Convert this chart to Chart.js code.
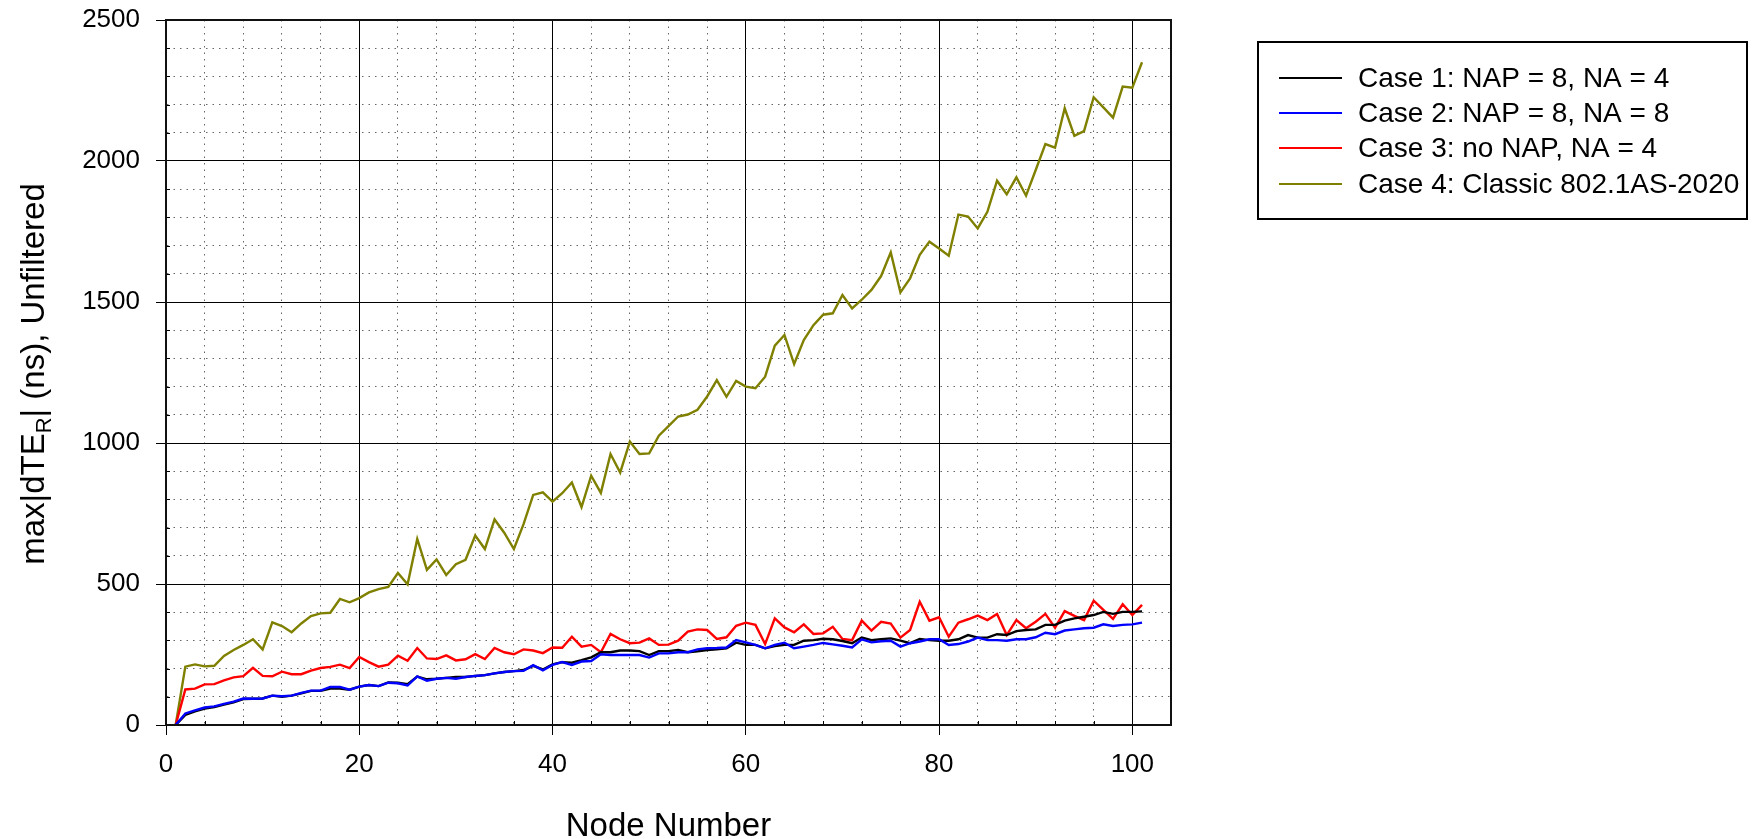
<!DOCTYPE html>
<html>
<head>
<meta charset="utf-8">
<script src="https://cdn.jsdelivr.net/npm/chart.js@4.4.1/dist/chart.umd.min.js"></script>
<style>
  html, body { margin: 0; padding: 0; background: #fff; }
  #wrap { width: 1762px; height: 839px; }
</style>
</head>
<body>
<div id="wrap"><canvas id="chart" width="1762" height="839"></canvas></div>
<script>
const nodes = [1, 2, 3, 4, 5, 6, 7, 8, 9, 10, 11, 12, 13, 14, 15, 16, 17, 18, 19, 20,
  21, 22, 23, 24, 25, 26, 27, 28, 29, 30, 31, 32, 33, 34, 35, 36, 37, 38, 39, 40,
  41, 42, 43, 44, 45, 46, 47, 48, 49, 50, 51, 52, 53, 54, 55, 56, 57, 58, 59, 60,
  61, 62, 63, 64, 65, 66, 67, 68, 69, 70, 71, 72, 73, 74, 75, 76, 77, 78, 79, 80,
  81, 82, 83, 84, 85, 86, 87, 88, 89, 90, 91, 92, 93, 94, 95, 96, 97, 98, 99, 100, 101];

// Case 1: NAP = 8, NA = 4
const case1 = [0, 36, 48, 58, 64, 72, 80, 92, 93, 94, 104, 100, 104, 112, 121, 121, 129, 129, 125, 136,
  142, 138, 151, 150, 145, 172, 162, 164, 167, 170, 170, 174, 177, 183, 188, 191, 195, 210, 197, 215,
  223, 221, 230, 240, 258, 258, 264, 264, 262, 248, 262, 262, 266, 258, 261, 266, 268, 272, 292, 284,
  284, 272, 280, 284, 284, 299, 301, 306, 304, 298, 290, 310, 301, 304, 307, 299, 290, 305, 301, 299,
  299, 304, 319, 310, 310, 322, 319, 333, 337, 339, 355, 355, 370, 378, 384, 390, 401, 394, 401, 401, 403];

// Case 2: NAP = 8, NA = 8
const case2 = [0, 41, 52, 62, 66, 75, 83, 94, 93, 94, 104, 102, 104, 114, 122, 122, 135, 135, 125, 136,
  142, 138, 150, 148, 140, 172, 157, 164, 167, 164, 170, 174, 177, 183, 188, 191, 192, 212, 194, 213,
  223, 213, 225, 227, 251, 248, 248, 248, 248, 239, 254, 254, 258, 258, 268, 272, 273, 275, 301, 293,
  284, 272, 284, 292, 272, 278, 284, 291, 286, 281, 275, 304, 293, 297, 299, 278, 290, 296, 304, 304,
  284, 287, 296, 310, 301, 301, 299, 304, 304, 311, 327, 322, 335, 339, 343, 345, 357, 351, 355, 357, 363];

// Case 3: no NAP, NA = 4
const case3 = [0, 126, 129, 144, 145, 158, 169, 173, 203, 174, 173, 189, 180, 180, 193, 202, 206, 214, 202, 241,
  223, 207, 214, 246, 228, 273, 236, 234, 247, 229, 233, 251, 234, 273, 258, 251, 268, 264, 255, 275,
  274, 313, 278, 284, 258, 323, 304, 290, 292, 307, 284, 285, 299, 331, 339, 337, 305, 311, 352, 363,
  355, 287, 378, 346, 329, 357, 323, 325, 348, 305, 301, 370, 335, 366, 360, 310, 337, 437, 370, 382,
  313, 363, 375, 388, 372, 394, 319, 372, 343, 366, 394, 345, 404, 387, 372, 441, 408, 376, 428, 390, 426];

// Case 4: Classic 802.1AS-2020
const case4 = [0, 207, 215, 208, 210, 245, 266, 284, 304, 268, 364, 351, 329, 360, 386, 396, 398, 447, 435, 450,
  470, 482, 490, 539, 499, 660, 550, 587, 532, 570, 586, 672, 624, 729, 682, 624, 712, 816, 825, 792,
  822, 860, 773, 884, 823, 961, 895, 1005, 961, 963, 1026, 1060, 1094, 1101, 1118, 1165, 1223, 1164, 1220, 1200,
  1194, 1235, 1345, 1383, 1280, 1365, 1418, 1455, 1460, 1525, 1477, 1508, 1543, 1592, 1676, 1534, 1584, 1667, 1714, 1690,
  1664, 1810, 1803, 1761, 1820, 1930, 1882, 1942, 1877, 1968, 2060, 2047, 2187, 2089, 2106, 2226, 2190, 2154, 2264, 2260, 2350];

const seriesLabels = [
  "Case 1: NAP = 8, NA = 4",
  "Case 2: NAP = 8, NA = 8",
  "Case 3: no NAP, NA = 4",
  "Case 4: Classic 802.1AS-2020"
];
const seriesColors = ["#000000", "#0000ff", "#ff0000", "#808000"];

const xTickLabels = [0, 20, 40, 60, 80, 100];
const yTickLabels = [0, 500, 1000, 1500, 2000, 2500];

const FONT = "'Liberation Sans', Arial, sans-serif";

const toPoints = (values) => nodes.map((n, i) => ({ x: n, y: values[i] }));

// frame, minor ticks, axis titles and boxed legend
const decorPlugin = {
  id: "decor",
  afterDraw(chart) {
    const { ctx, chartArea: a, scales } = chart;
    const xs = scales.x;
    const ys = scales.y;
    ctx.save();

    // small inward minor ticks
    ctx.strokeStyle = "#000";
    ctx.lineWidth = 1;
    ctx.beginPath();
    xs.ticks.forEach((t) => {
      if (xTickLabels.includes(t.value)) return;
      const px = Math.round(xs.getPixelForValue(t.value)) + 0.5;
      ctx.moveTo(px, a.bottom);
      ctx.lineTo(px, a.bottom - 4);
    });
    ys.ticks.forEach((t) => {
      if (yTickLabels.includes(t.value)) return;
      const py = Math.round(ys.getPixelForValue(t.value)) + 0.5;
      ctx.moveTo(a.left, py);
      ctx.lineTo(a.left + 4, py);
    });
    ctx.stroke();

    // plot frame
    ctx.lineWidth = 2;
    ctx.strokeStyle = "#111";
    ctx.strokeRect(a.left, a.top, a.right - a.left, a.bottom - a.top);

    // x title
    ctx.fillStyle = "#000";
    ctx.font = "33px " + FONT;
    ctx.textAlign = "center";
    ctx.textBaseline = "alphabetic";
    ctx.fillText("Node Number", (a.left + a.right) / 2, 836);

    // y title with subscript R
    const p1 = "max|dTE";
    const sub = "R";
    const p2 = "| (ns), Unfiltered";
    ctx.font = "33px " + FONT;
    const w1 = ctx.measureText(p1).width;
    const w3 = ctx.measureText(p2).width;
    ctx.font = "22px " + FONT;
    const w2 = ctx.measureText(sub).width;
    const total = w1 + w2 + w3;
    ctx.translate(44, 374);
    ctx.rotate(-Math.PI / 2);
    ctx.textAlign = "left";
    let cx = -total / 2;
    ctx.font = "33px " + FONT;
    ctx.fillText(p1, cx, 0);
    cx += w1;
    ctx.font = "22px " + FONT;
    ctx.fillText(sub, cx, 7);
    cx += w2;
    ctx.font = "33px " + FONT;
    ctx.fillText(p2, cx, 0);
    ctx.setTransform(1, 0, 0, 1, 0, 0);

    // legend
    ctx.lineWidth = 2;
    ctx.strokeStyle = "#000";
    ctx.strokeRect(1258, 42, 489, 177);
    ctx.font = "28px " + FONT;
    ctx.textAlign = "left";
    ctx.textBaseline = "middle";
    const rows = [78, 113, 148, 184];
    seriesLabels.forEach((label, i) => {
      ctx.strokeStyle = seriesColors[i];
      ctx.lineWidth = 2;
      ctx.beginPath();
      ctx.moveTo(1279, rows[i]);
      ctx.lineTo(1342, rows[i]);
      ctx.stroke();
      ctx.fillStyle = "#000";
      ctx.fillText(label, 1358, rows[i] + 1);
    });

    ctx.restore();
  }
};

const makeDataset = (values, i, order) => ({
  label: seriesLabels[i],
  data: toPoints(values),
  borderColor: seriesColors[i],
  backgroundColor: seriesColors[i],
  borderWidth: 2.4,
  pointRadius: 0,
  tension: 0,
  fill: false,
  order: order,
});

const ctx = document.querySelector("#chart").getContext("2d");

const chartInstance = new Chart(ctx, {
  type: "line",
  data: {
    datasets: [
      makeDataset(case1, 0, 2),
      makeDataset(case2, 1, 1),
      makeDataset(case3, 2, 3),
      makeDataset(case4, 3, 4),
    ],
  },
  options: {
    responsive: false,
    animation: false,
    devicePixelRatio: 1,
    layout: {
      padding: { left: 0, top: 20, right: 591, bottom: 0 },
    },
    plugins: {
      legend: { display: false },
      tooltip: { enabled: false },
    },
    scales: {
      x: {
        type: "linear",
        position: "bottom",
        min: 0,
        max: 104,
        afterFit: (scale) => {
          scale.height = 114;
          scale.paddingLeft = 0;
          scale.paddingRight = 0;
        },
        ticks: {
          stepSize: 4,
          autoSkip: false,
          maxRotation: 0,
          padding: 14,
          color: "#000",
          font: { family: FONT, size: 26 },
          callback: (v) => (xTickLabels.includes(v) ? String(v) : ""),
        },
        grid: {
          color: (c) => (c.tick && xTickLabels.includes(c.tick.value) ? "#000" : "#666"),
          lineWidth: 1,
          tickLength: 10,
          tickColor: (c) => (c.tick && xTickLabels.includes(c.tick.value) ? "#000" : "rgba(0,0,0,0)"),
        },
        border: {
          display: true,
          color: "#000",
          width: 2,
          dash: (c) => (c.tick && !xTickLabels.includes(c.tick.value) ? [1.5, 5] : []),
        },
      },
      y: {
        type: "linear",
        min: 0,
        max: 2500,
        afterFit: (scale) => {
          scale.width = 166;
          scale.paddingTop = 0;
          scale.paddingBottom = 0;
        },
        ticks: {
          stepSize: 100,
          autoSkip: false,
          padding: 16,
          color: "#000",
          font: { family: FONT, size: 26 },
          callback: (v) => (yTickLabels.includes(v) ? String(v) : ""),
        },
        grid: {
          color: (c) => (c.tick && yTickLabels.includes(c.tick.value) ? "#000" : "#666"),
          lineWidth: 1,
          tickLength: 10,
          tickColor: (c) => (c.tick && yTickLabels.includes(c.tick.value) ? "#000" : "rgba(0,0,0,0)"),
        },
        border: {
          display: true,
          color: "#000",
          width: 2,
          dash: (c) => (c.tick && !yTickLabels.includes(c.tick.value) ? [1.5, 5] : []),
        },
      },
    },
  },
  plugins: [decorPlugin],
});
</script>
</body>
</html>
